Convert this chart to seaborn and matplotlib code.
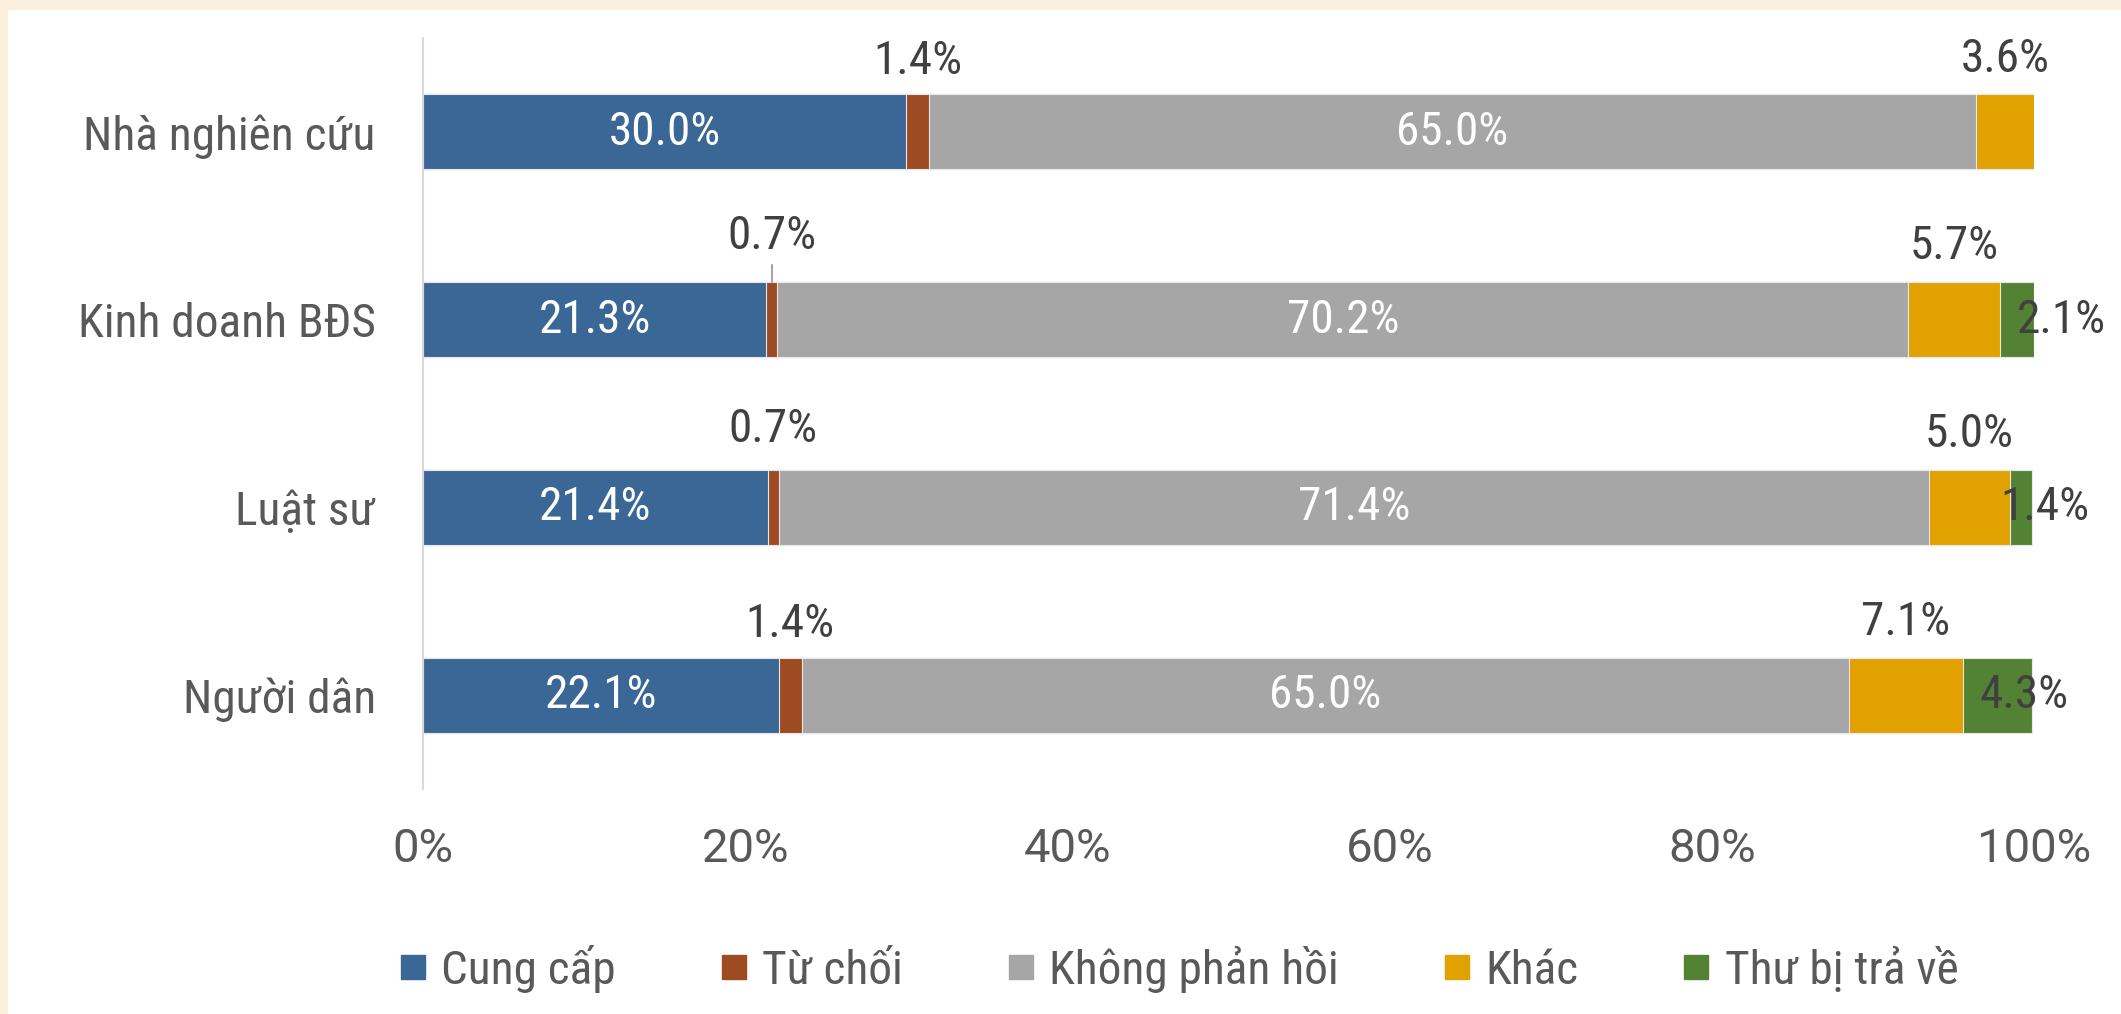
import matplotlib
matplotlib.use("Agg")
import matplotlib.pyplot as plt
from matplotlib import font_manager
from matplotlib.lines import Line2D
from matplotlib.patches import Rectangle
import seaborn as sns
import numpy as np

# data
categories = ["Nhà nghiên cứu", "Kinh doanh BĐS", "Luật sư", "Người dân"]
series_names = ["Cung cấp", "Từ chối", "Không phản hồi", "Khác", "Thư bị trả về"]
cung_cap = [30.0, 21.3, 21.4, 22.1]
tu_choi = [1.4, 0.7, 0.7, 1.4]
khong_phan_hoi = [65.0, 70.2, 71.4, 65.0]
khac = [3.6, 5.7, 5.0, 7.1]
thu_tra_ve = [0.0, 2.1, 1.4, 4.3]
tick_labels = ["0%", "20%", "40%", "60%", "80%", "100%"]

colors = ["#3a6795", "#9e4a23", "#a6a6a6", "#e1a100", "#548235"]

sns.set_style("white")
names = {f.name for f in font_manager.fontManager.ttflist}
if "Roboto Condensed" in names:
    family, fs = "Roboto Condensed", 34
else:
    family, fs = "Roboto", 30
plt.rcParams["font.family"] = [family, "DejaVu Sans"]

fig = plt.figure(figsize=(21.21, 10.14), dpi=100)
fig.patch.set_facecolor("#f9efdc")
fig.patches.append(Rectangle((8 / 2121, 0), 1, 1 - 10 / 1014, transform=fig.transFigure,
                             facecolor="white", edgecolor="none", zorder=-5))

ax = fig.add_axes([423 / 2121, 1 - 789 / 1014, (2034 - 423) / 2121, (789 - 38) / 1014])
ax.set_facecolor("white")
ax.set_zorder(1)

all_series = [cung_cap, tu_choi, khong_phan_hoi, khac, thu_tra_ve]
cums = np.cumsum(np.array(all_series), axis=0)

# stacked bars: draw cumulative totals from the back
for i in reversed(range(len(all_series))):
    sns.barplot(x=cums[i], y=categories, color=colors[i], orient="h", width=0.4,
                edgecolor="#e8e8e8", linewidth=0.8, saturation=1, ax=ax)

ax.set_xlim(0, 100)
ax.set_ylim(3.5, -0.5)
ax.set_xticks([0, 20, 40, 60, 80, 100])
ax.set_xticklabels(tick_labels, family=["Roboto", "DejaVu Sans"])
ax.tick_params(axis="x", length=0, pad=27, labelsize=34, labelcolor="#595959")
ax.tick_params(axis="y", length=0, pad=34, labelsize=fs, labelcolor="#595959")
ax.set_xlabel("")
ax.set_ylabel("")
for s in ["top", "right", "bottom"]:
    ax.spines[s].set_visible(False)
ax.spines["left"].set_color("#d9d9d9")
ax.spines["left"].set_linewidth(1.5)

# labels
tu_choi_lift = [0.38, 0.445, 0.42, 0.38]
tra_ve_offset = [0, 1.7, 0.8, -0.5]
for r in range(len(categories)):
    # inside labels
    for i in (0, 2):
        start = cums[i][r] - all_series[i][r]
        ax.text(start + all_series[i][r] / 2, r, f"{all_series[i][r]:.1f}%", color="white",
                ha="center", va="center", fontsize=fs)
    # Từ chối above
    mid = cums[1][r] - tu_choi[r] / 2
    ax.text(mid, r - tu_choi_lift[r], f"{tu_choi[r]:.1f}%", color="#404040",
            ha="center", va="center", fontsize=fs)
    if tu_choi_lift[r] > 0.43:
        ax.plot([mid, mid], [r - 0.2, r - 0.29], color="#a6a6a6", lw=1.5)
    # Khác above
    mid = cums[3][r] - khac[r] / 2
    ax.text(mid, r - 0.39, f"{khac[r]:.1f}%", color="#404040",
            ha="center", va="center", fontsize=fs)
    # Thư bị trả về at the end
    if thu_tra_ve[r] > 0:
        ax.text(cums[4][r] + tra_ve_offset[r], r, f"{thu_tra_ve[r]:.1f}%", color="#404040",
                ha="center", va="center", fontsize=fs, clip_on=False)

handles = [Line2D([], [], marker="s", linestyle="none", markersize=17, color=c) for c in colors]
leg = fig.legend(handles, series_names, loc="center", bbox_to_anchor=(0.554, 1 - 969 / 1014),
                 ncol=5, frameon=False, fontsize=fs, handletextpad=0.15, columnspacing=2.05,
                 handlelength=0.9)
for t in leg.get_texts():
    t.set_color("#595959")

fig.savefig("out.png", dpi=100, facecolor=fig.get_facecolor())
